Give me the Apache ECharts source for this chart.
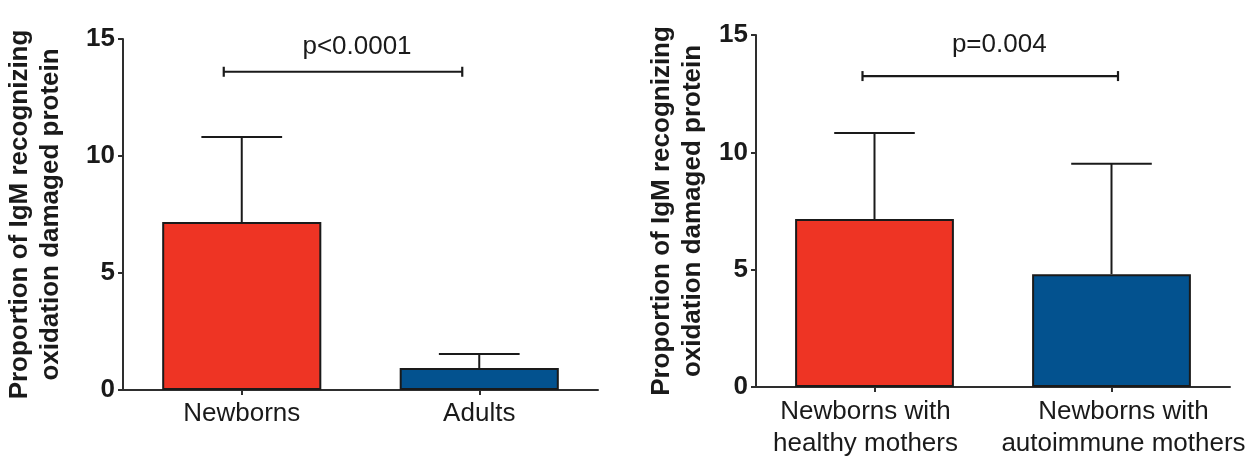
<!DOCTYPE html>
<html>
<head>
<meta charset="utf-8">
<style>
  html, body { margin: 0; padding: 0; background: #ffffff; }
  #chart { width: 1259px; height: 456px; }
</style>
<script src="https://cdn.jsdelivr.net/npm/echarts@6/dist/echarts.min.js"></script>
</head>
<body>
<div id="chart"></div>
<script>
// ---- data ----
const leftCategories = ['Newborns', 'Adults'];
const leftMeans = [7.18, 0.94];
const leftSD = [3.63, 0.60];
const leftPValue = 'p<0.0001';
const leftBracketLevel = 13.6;

const rightCategories = ['Newborns with\nhealthy mothers', 'Newborns with\nautoimmune mothers'];
const rightMeans = [7.16, 4.81];
const rightSD = [3.66, 4.70];
const rightPValue = 'p=0.004';
const rightBracketLevel = 13.25;

const yMin = 0, yMax = 15, yStep = 5;
const yAxisTitle = ['Proportion of IgM recognizing', 'oxidation damaged protein'];
const barColors = ['#EE3424', '#03528F'];

// ---- styling ----
const FONT = '"Liberation Sans", Arial, Helvetica, sans-serif';
const INK = '#1a1a1a';
const AXIS = '#2e2e2e';

function errorRender(params, api) {
  const i = api.value(0), top = api.value(1), mean = api.value(2);
  const p0 = api.coord([i, mean]);
  const p1 = api.coord([i, top]);
  const half = api.size([1, 0])[0] * 0.17;
  const st = { stroke: INK, lineWidth: 2 };
  return { type: 'group', children: [
    { type: 'line', shape: { x1: p0[0], y1: p0[1], x2: p1[0], y2: p1[1] }, style: st },
    { type: 'line', shape: { x1: p1[0] - half, y1: p1[1], x2: p1[0] + half, y2: p1[1] }, style: st }
  ]};
}

function makeBracketRender(label, dxStart, dxEnd, dxText, textLevel) {
  return function (params, api) {
    const y = api.value(2);
    const a = api.coord([api.value(0), y]);
    const b = api.coord([api.value(1), y]);
    const t = api.coord([api.value(0), textLevel]);
    const x1 = a[0] + dxStart, x2 = b[0] + dxEnd;
    const st = { stroke: INK, lineWidth: 2.2 };
    return { type: 'group', children: [
      { type: 'line', shape: { x1: x1, y1: a[1], x2: x2, y2: a[1] }, style: st },
      { type: 'line', shape: { x1: x1, y1: a[1] - 5, x2: x1, y2: a[1] + 5 }, style: st },
      { type: 'line', shape: { x1: x2, y1: a[1] - 5, x2: x2, y2: a[1] + 5 }, style: st },
      { type: 'text', style: { text: label, x: (x1 + x2) / 2 + dxText, y: t[1],
          textAlign: 'center', textVerticalAlign: 'middle',
          font: '26px ' + FONT, fill: INK } }
    ]};
  };
}

function yAxisCfg(gridIndex, nameGap) {
  return {
    type: 'value', gridIndex: gridIndex, min: yMin, max: yMax, interval: yStep,
    name: yAxisTitle.join('\n'), nameLocation: 'middle', nameRotate: 90, nameGap: nameGap,
    nameTextStyle: { fontFamily: FONT, fontWeight: 'bold', fontSize: 26, color: INK, lineHeight: 31 },
    axisLine: { show: true, lineStyle: { color: AXIS, width: 2 } },
    axisTick: { show: true, length: 5, lineStyle: { color: AXIS, width: 2 } },
    axisLabel: { fontFamily: FONT, fontWeight: 'bold', fontSize: 26, color: INK, margin: 8 },
    splitLine: { show: false }
  };
}

function xAxisCfg(gridIndex, data, margin) {
  return {
    type: 'category', gridIndex: gridIndex, data: data, boundaryGap: true,
    axisLine: { show: true, lineStyle: { color: AXIS, width: 2 } },
    axisTick: { show: true, alignWithLabel: true, length: 5, lineStyle: { color: AXIS, width: 2 } },
    axisLabel: { interval: 0, fontFamily: FONT, fontSize: 26, color: INK, margin: margin, lineHeight: 32 }
  };
}

const chart = echarts.init(document.getElementById('chart'), null, { renderer: 'canvas' });

const option = {
  backgroundColor: '#ffffff',
  animation: false,
  grid: [
    { left: 123, right: 661, top: 39, bottom: 66, containLabel: false, outerBoundsMode: 'none' },
    { left: 756, right: 29, top: 35, bottom: 69, containLabel: false, outerBoundsMode: 'none' }
  ],
  xAxis: [
    xAxisCfg(0, leftCategories, 8),
    xAxisCfg(1, [
      { value: rightCategories[0], textStyle: { padding: [0, 18, 0, 0] } },
      { value: rightCategories[1], textStyle: { padding: [0, 0, 0, 24] } }
    ], 9)
  ],
  yAxis: [ yAxisCfg(0, 57), yAxisCfg(1, 48) ],
  series: [
    {
      type: 'bar', xAxisIndex: 0, yAxisIndex: 0, barWidth: '67%',
      data: leftMeans.map((v, i) => ({ value: v, itemStyle: { color: barColors[i] } })),
      itemStyle: { borderColor: INK, borderWidth: 2 }, z: 2
    },
    {
      type: 'custom', xAxisIndex: 0, yAxisIndex: 0, renderItem: errorRender, z: 3,
      encode: { x: 0, y: 1 },
      data: leftMeans.map((m, i) => [i, m + leftSD[i], m])
    },
    {
      type: 'custom', xAxisIndex: 0, yAxisIndex: 0, clip: false, z: 3,
      renderItem: makeBracketRender(leftPValue, -18, -17, 14, 14.68),
      encode: { x: [0, 1], y: 2 },
      data: [[0, 1, leftBracketLevel]]
    },
    {
      type: 'bar', xAxisIndex: 1, yAxisIndex: 1, barWidth: '67%',
      data: rightMeans.map((v, i) => ({ value: v, itemStyle: { color: barColors[i] } })),
      itemStyle: { borderColor: INK, borderWidth: 2 }, z: 2
    },
    {
      type: 'custom', xAxisIndex: 1, yAxisIndex: 1, renderItem: errorRender, z: 3,
      encode: { x: 0, y: 1 },
      data: rightMeans.map((m, i) => [i, m + rightSD[i], m])
    },
    {
      type: 'custom', xAxisIndex: 1, yAxisIndex: 1, clip: false, z: 3,
      renderItem: makeBracketRender(rightPValue, -12, 6.5, 9, 14.6),
      encode: { x: [0, 1], y: 2 },
      data: [[0, 1, rightBracketLevel]]
    }
  ]
};
chart.setOption(option);
</script>
</body>
</html>
